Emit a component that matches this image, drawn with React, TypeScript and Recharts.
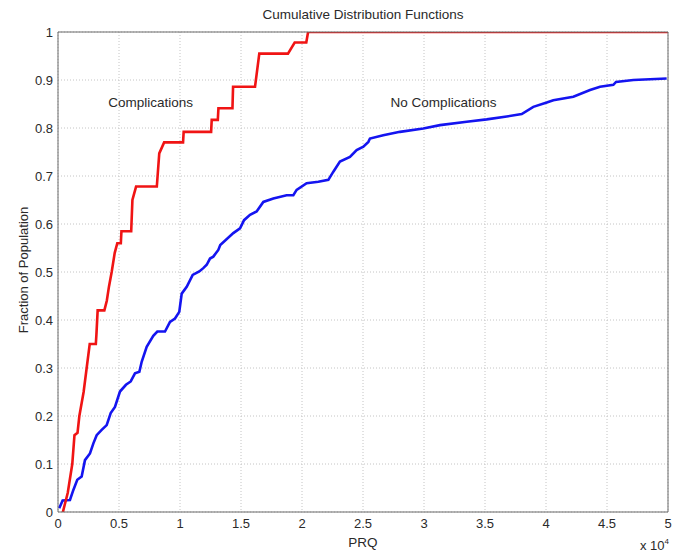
import React from 'react';
import { LineChart, Line, XAxis, YAxis, CartesianGrid, ReferenceDot } from 'recharts';

// PRQ values (raw units; axis shows them scaled by 10^4)
const xTicks = [0, 5000, 10000, 15000, 20000, 25000, 30000, 35000, 40000, 45000, 50000];
const xTickLabels = ['0', '0.5', '1', '1.5', '2', '2.5', '3', '3.5', '4', '4.5', '5'];
const yTicks = [0, 0.1, 0.2, 0.3, 0.4, 0.5, 0.6, 0.7, 0.8, 0.9, 1];
const yTickLabels = ['0', '0.1', '0.2', '0.3', '0.4', '0.5', '0.6', '0.7', '0.8', '0.9', '1'];

// Complications CDF
const complicationsPRQ = [
  400, 800, 1170, 1350, 1600, 1750, 2100, 2350, 2600, 3100,
  3150, 3250, 3800, 4000, 4180, 4400, 4650, 4860, 5150, 5200,
  6000, 6100, 6400, 8100, 8300, 8700, 10250, 10300, 12550, 12600,
  13100, 13150, 14300, 14350, 16150, 16500, 18850, 19400, 20350, 20500,
  50000,
];
const complicationsFraction = [
  0, 0.04, 0.1, 0.16, 0.165, 0.2, 0.25, 0.3, 0.35, 0.35,
  0.37, 0.42, 0.42, 0.44, 0.47, 0.5, 0.54, 0.56, 0.56, 0.585,
  0.585, 0.65, 0.678, 0.678, 0.747, 0.77, 0.77, 0.792, 0.792, 0.817,
  0.817, 0.841, 0.841, 0.886, 0.886, 0.955, 0.955, 0.978, 0.978, 1,
  1,
];

// No Complications CDF
const noComplicationsPRQ = [
  100, 380, 980, 1260, 1580, 1940, 2210, 2620, 2900, 3170,
  3580, 3990, 4320, 4670, 5080, 5570, 5960, 6310, 6670, 6860,
  7270, 7810, 8140, 8770, 9180, 9590, 9940, 10140, 10550, 11040,
  11580, 11910, 12190, 12460, 12730, 13140, 13300, 14370, 14920, 15250,
  15740, 16280, 16830, 17650, 18740, 19290, 19560, 20380, 21340, 22160,
  22570, 23110, 23930, 24480, 25030, 25440, 25570, 26660, 28030, 29940,
  31310, 33500, 35140, 36780, 38010, 38960, 40060, 40600, 42240, 43610,
  44430, 45520, 45740, 47160, 49890,
];
const noComplicationsFraction = [
  0.008, 0.024, 0.025, 0.046, 0.067, 0.074, 0.108, 0.122, 0.143, 0.16,
  0.171, 0.181, 0.206, 0.219, 0.251, 0.265, 0.272, 0.289, 0.292, 0.313,
  0.344, 0.367, 0.376, 0.376, 0.396, 0.403, 0.417, 0.455, 0.469, 0.494,
  0.501, 0.508, 0.515, 0.528, 0.532, 0.546, 0.556, 0.581, 0.591, 0.608,
  0.619, 0.626, 0.646, 0.653, 0.66, 0.66, 0.671, 0.685, 0.688, 0.692,
  0.709, 0.73, 0.74, 0.754, 0.761, 0.771, 0.778, 0.785, 0.792, 0.799,
  0.806, 0.813, 0.818, 0.824, 0.829, 0.844, 0.853, 0.858, 0.865, 0.879,
  0.886, 0.89, 0.896, 0.9, 0.903,
];

// Annotation anchors (PRQ, fraction)
const annotations = [
  { text: 'Complications', prq: 7600, fraction: 0.853 },
  { text: 'No Complications', prq: 31600, fraction: 0.853 },
];

const complications = complicationsPRQ.map((x, i) => ({ x, y: complicationsFraction[i] }));
const noComplications = noComplicationsPRQ.map((x, i) => ({ x, y: noComplicationsFraction[i] }));

const FONT = '"Liberation Sans", Arial, Helvetica, sans-serif';
const TEXT = '#2a2a2a';
const BOX = '#6a6a6a';

const fmtX = (v: number) => {
  const i = xTicks.indexOf(v);
  return i >= 0 ? xTickLabels[i] : String(v / 10000);
};
const fmtY = (v: number) => {
  const i = yTicks.indexOf(v);
  return i >= 0 ? yTickLabels[i] : String(v);
};

const XTitles = (props: any) => {
  const vb = props.viewBox || { x: 58, y: 512, width: 610, height: 42 };
  const cx = vb.x + vb.width / 2;
  return (
    <g>
      <text x={cx} y={vb.y + 34.5} textAnchor="middle" fontSize={13.5} fill={TEXT} fontFamily={FONT}>
        PRQ
      </text>
      <text x={vb.x + vb.width + 1} y={vb.y + 38} textAnchor="end" fontSize={13} fill={TEXT} fontFamily={FONT}>
        x 10<tspan dy={-6} fontSize={8}>4</tspan>
      </text>
    </g>
  );
};

const YTitle = (props: any) => {
  const vb = props.viewBox || { x: 0, y: 32, width: 58, height: 480 };
  const cy = vb.y + vb.height / 2 - 2;
  const x = 28;
  return (
    <text
      x={x}
      y={cy}
      transform={`rotate(-90, ${x}, ${cy})`}
      textAnchor="middle"
      fontSize={13}
      fill={TEXT}
      fontFamily={FONT}
    >
      Fraction of Population
    </text>
  );
};

export default function App() {
  const tickStyle = { fontSize: 13, fill: TEXT, fontFamily: FONT };
  return (
    <div style={{ position: 'absolute', left: 0, top: 0, width: 682, height: 554, background: '#fff' }}>
      <div
        style={{
          position: 'absolute',
          left: 58,
          top: 7,
          width: 610,
          textAlign: 'center',
          fontSize: 13.5,
          lineHeight: '16px',
          color: TEXT,
          fontFamily: FONT,
        }}
      >
        Cumulative Distribution Functions
      </div>
      <LineChart width={682} height={554} margin={{ top: 32, right: 14, bottom: 0, left: 0 }}>
        <CartesianGrid stroke="#c4c4c4" strokeDasharray="1 2" />
        <XAxis
          dataKey="x"
          type="number"
          domain={[0, 50000]}
          ticks={xTicks}
          tickFormatter={fmtX}
          allowDataOverflow
          height={42}
          tickLine={false}
          tickSize={4}
          tickMargin={3}
          axisLine={{ stroke: BOX }}
          tick={tickStyle}
          interval={0}
          label={{ content: XTitles }}
        />
        <XAxis
          xAxisId="top"
          orientation="top"
          dataKey="x"
          type="number"
          domain={[0, 50000]}
          ticks={xTicks}
          allowDataOverflow
          mirror
          tick={false}
          tickSize={5}
          axisLine={{ stroke: BOX }}
          tickLine={{ stroke: BOX }}
          interval={0}
        />
        <XAxis
          xAxisId="bottomTicks"
          orientation="bottom"
          dataKey="x"
          type="number"
          domain={[0, 50000]}
          ticks={xTicks}
          allowDataOverflow
          mirror
          tick={false}
          tickSize={5}
          axisLine={false}
          tickLine={{ stroke: BOX }}
          interval={0}
        />
        <YAxis
          type="number"
          domain={[0, 1]}
          ticks={yTicks}
          tickFormatter={fmtY}
          allowDataOverflow
          width={58}
          tickLine={false}
          tickSize={3}
          tickMargin={2}
          axisLine={{ stroke: BOX }}
          tick={tickStyle}
          interval={0}
          label={{ content: YTitle }}
        />
        <YAxis
          yAxisId="right"
          orientation="right"
          type="number"
          domain={[0, 1]}
          ticks={yTicks}
          allowDataOverflow
          mirror
          tick={false}
          tickSize={5}
          axisLine={{ stroke: BOX }}
          tickLine={{ stroke: BOX }}
          interval={0}
        />
        <YAxis
          yAxisId="leftTicks"
          orientation="left"
          type="number"
          domain={[0, 1]}
          ticks={yTicks}
          allowDataOverflow
          mirror
          tick={false}
          tickSize={5}
          axisLine={false}
          tickLine={{ stroke: BOX }}
          interval={0}
        />
        <Line
          data={noComplications}
          dataKey="y"
          type="linear"
          stroke="#1414f0"
          strokeWidth={2.6}
          dot={false}
          isAnimationActive={false}
        />
        <Line
          data={complications}
          dataKey="y"
          type="linear"
          stroke="#f01414"
          strokeWidth={2.6}
          dot={false}
          isAnimationActive={false}
        />
        {annotations.map((a) => (
          <ReferenceDot
            key={a.text}
            x={a.prq}
            y={a.fraction}
            r={0}
            fill="none"
            stroke="none"
            label={{ value: a.text, position: 'center', fontSize: 13.5, fill: TEXT, fontFamily: FONT }}
          />
        ))}
      </LineChart>
    </div>
  );
}
